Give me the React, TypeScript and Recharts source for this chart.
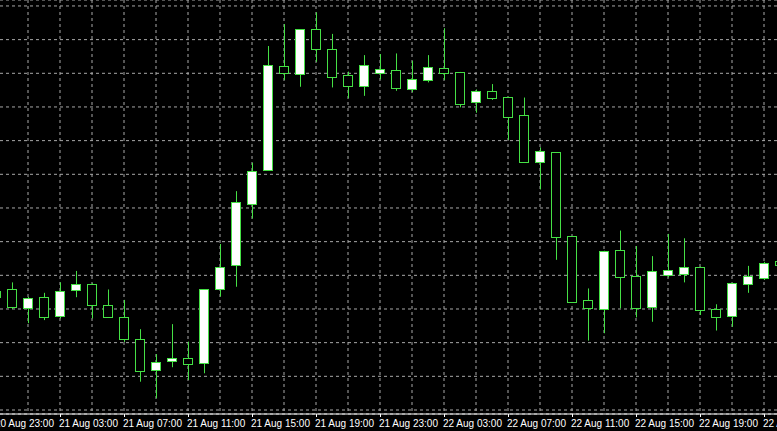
import React from 'react';
import { ComposedChart, Bar, XAxis, YAxis, CartesianGrid } from 'recharts';

const times = [
  '20 Aug 23:00',
  '21 Aug 00:00', '21 Aug 01:00', '21 Aug 02:00', '21 Aug 03:00', '21 Aug 04:00', '21 Aug 05:00',
  '21 Aug 06:00', '21 Aug 07:00', '21 Aug 08:00', '21 Aug 09:00', '21 Aug 10:00', '21 Aug 11:00',
  '21 Aug 12:00', '21 Aug 13:00', '21 Aug 14:00', '21 Aug 15:00', '21 Aug 16:00', '21 Aug 17:00',
  '21 Aug 18:00', '21 Aug 19:00', '21 Aug 20:00', '21 Aug 21:00', '21 Aug 22:00', '21 Aug 23:00',
  '22 Aug 00:00', '22 Aug 01:00', '22 Aug 02:00', '22 Aug 03:00', '22 Aug 04:00', '22 Aug 05:00',
  '22 Aug 06:00', '22 Aug 07:00', '22 Aug 08:00', '22 Aug 09:00', '22 Aug 10:00', '22 Aug 11:00',
  '22 Aug 12:00', '22 Aug 13:00', '22 Aug 14:00', '22 Aug 15:00', '22 Aug 16:00', '22 Aug 17:00',
  '22 Aug 18:00', '22 Aug 19:00', '22 Aug 20:00', '22 Aug 21:00', '22 Aug 22:00', '22 Aug 23:00',
  '23 Aug 00:00',
];

const opens = [
  1.16336,
  1.16358, 1.16304, 1.16335, 1.16279, 1.16356, 1.16374, 1.16311, 1.16275, 1.16210, 1.16119, 1.16145, 1.16154,
  1.16139, 1.16358, 1.16430, 1.16611, 1.16712, 1.17021, 1.16998, 1.17131, 1.17071, 1.16994, 1.16961, 1.17002,
  1.17009, 1.16952, 1.16980, 1.17015, 1.17004, 1.16914, 1.16947, 1.16929, 1.16875, 1.16737, 1.16765, 1.16516,
  1.16327, 1.16299, 1.16474, 1.16398, 1.16305, 1.16401, 1.16403, 1.16426, 1.16299, 1.16278, 1.16374, 1.16391,
  1.16442,
];
const highs = [
  1.16362,
  1.16379, 1.16336, 1.16348, 1.16379, 1.16413, 1.16376, 1.16358, 1.16327, 1.16240, 1.16166, 1.16255, 1.16203,
  1.16358, 1.16493, 1.16650, 1.16734, 1.17081, 1.17146, 1.17131, 1.17181, 1.17117, 1.17005, 1.17054, 1.17057,
  1.17059, 1.17037, 1.17054, 1.17134, 1.17004, 1.16952, 1.16968, 1.16929, 1.16928, 1.16780, 1.16765, 1.16516,
  1.16361, 1.16473, 1.16533, 1.16487, 1.16457, 1.16523, 1.16510, 1.16426, 1.16314, 1.16378, 1.16428, 1.16440,
  1.16451,
];
const lows = [
  1.16327,
  1.16300, 1.16258, 1.16267, 1.16272, 1.16335, 1.16272, 1.16274, 1.16202, 1.16084, 1.16035, 1.16127, 1.16089,
  1.16109, 1.16337, 1.16366, 1.16569, 1.16711, 1.16980, 1.16960, 1.17034, 1.16958, 1.16926, 1.16933, 1.16982,
  1.16948, 1.16944, 1.16973, 1.16980, 1.16899, 1.16883, 1.16921, 1.16802, 1.16737, 1.16655, 1.16446, 1.16322,
  1.16206, 1.16228, 1.16302, 1.16275, 1.16262, 1.16394, 1.16379, 1.16282, 1.16236, 1.16247, 1.16348, 1.16386,
  1.16422,
];
const closes = [
  1.16353,
  1.16307, 1.16332, 1.16277, 1.16354, 1.16374, 1.16313, 1.16275, 1.16212, 1.16117, 1.16142, 1.16154, 1.16138,
  1.16358, 1.16426, 1.16617, 1.16711, 1.17024, 1.17001, 1.17131, 1.17071, 1.16990, 1.16961, 1.17024, 1.17012,
  1.16957, 1.16982, 1.17018, 1.17000, 1.16910, 1.16947, 1.16928, 1.16871, 1.16737, 1.16768, 1.16515, 1.16322,
  1.16302, 1.16473, 1.16396, 1.16302, 1.16412, 1.16415, 1.16426, 1.16296, 1.16277, 1.16376, 1.16399, 1.16437,
  1.16431,
];

const priceTicks = [
  1.16, 1.161, 1.162, 1.163, 1.164, 1.165, 1.166, 1.167, 1.168, 1.169, 1.17, 1.171, 1.172,
];
const priceDomain = [1.159881, 1.172177];

const labelTimes = [
  '20 Aug 23:00', '21 Aug 03:00', '21 Aug 07:00', '21 Aug 11:00', '21 Aug 15:00', '21 Aug 19:00',
  '21 Aug 23:00', '22 Aug 03:00', '22 Aug 07:00', '22 Aug 11:00', '22 Aug 15:00', '22 Aug 19:00',
  '22 Aug 23:00',
];

const GREEN = '#45e045';

const data = times.map((t, i) => ({
  time: t,
  open: opens[i],
  high: highs[i],
  low: lows[i],
  close: closes[i],
  range: [lows[i], highs[i]],
}));

function Candle(props: any) {
  const { x, y, width, height, payload } = props;
  if (!payload || x == null || y == null) return <g />;
  const { open, close, high, low } = payload;
  const cx = Math.round(x + width / 2);
  const k = high - low > 0 ? height / (high - low) : 0;
  const py = (v: number) => y + (high - v) * k;
  const top = Math.round(py(Math.max(open, close))) + 0.5;
  let bot = Math.round(py(Math.min(open, close))) + 0.5;
  if (bot < top + 1) bot = top + 1;
  const bull = close >= open;
  return (
    <g>
      <line x1={cx + 0.5} x2={cx + 0.5} y1={y} y2={y + height} stroke={GREEN} strokeWidth={1} />
      <rect
        x={cx - 4.5}
        y={top}
        width={9}
        height={bot - top}
        fill={bull ? '#ffffff' : '#000000'}
        stroke={GREEN}
        strokeWidth={1}
      />
    </g>
  );
}

function TimeTick(props: any) {
  const { x, y, payload } = props;
  if (!payload || !labelTimes.includes(payload.value)) return <g />;
  const tx = Math.round(x);
  return (
    <g>
      <line x1={tx + 0.5} x2={tx + 0.5} y1={y} y2={y + 3} stroke="#ffffff" strokeWidth={1} />
      <text
        x={tx - 1}
        y={y + 13}
        fill="#ffffff"
        fontSize={10}
        fontFamily="'Liberation Sans', Arial, sans-serif"
        textAnchor="start"
      >
        {payload.value}
      </text>
    </g>
  );
}

export default function App() {
  return (
    <div
      style={{
        position: 'fixed',
        left: 0,
        top: 0,
        width: 777,
        height: 431,
        overflow: 'hidden',
        background: '#000000',
      }}
    >
      <div style={{ position: 'absolute', left: -12, top: 0 }}>
        <ComposedChart
          width={800}
          height={431}
          data={data}
          margin={{ top: 0, right: 0, bottom: 0, left: 0 }}
          barCategoryGap={0}
        >
          <CartesianGrid stroke="#a8a8a8" strokeDasharray="3 3" />
          <XAxis
            dataKey="time"
            type="category"
            interval={1}
            height={17}
            axisLine={{ stroke: '#ffffff', strokeWidth: 1 }}
            tickLine={false}
            tickSize={0}
            tickMargin={0}
            tick={<TimeTick />}
          />
          <YAxis
            hide
            type="number"
            domain={priceDomain}
            ticks={priceTicks}
            allowDataOverflow
          />
          <Bar dataKey="range" barSize={10} shape={<Candle />} isAnimationActive={false} />
        </ComposedChart>
      </div>
    </div>
  );
}
